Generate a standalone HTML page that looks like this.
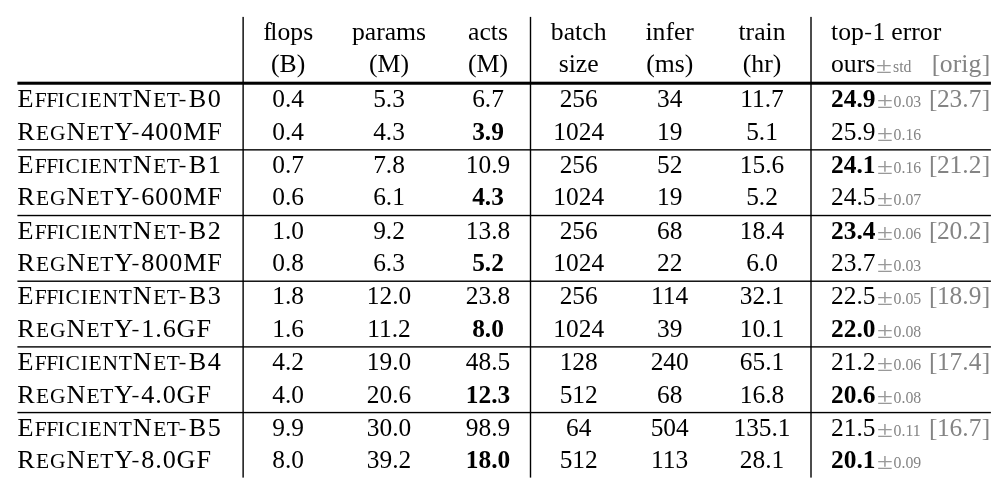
<!DOCTYPE html>
<html lang="en">
<head>
<meta charset="utf-8">
<title>EfficientNet vs RegNetY comparison</title>
<style>
html,body{margin:0;padding:0;background:#fff;}
body{width:1006px;height:485px;position:relative;overflow:hidden;
 font-family:"Liberation Serif","Times New Roman",serif;font-size:26px;line-height:33px;color:#000;}
.t{position:absolute;white-space:nowrap;height:33px;}
.t>span{font-size:25.4px;}
.t>.h{font-size:25.7px;}
.t>.nm{font-size:26.2px;letter-spacing:0.7px;}
.sc{font-size:21.48px;letter-spacing:0.9px;text-transform:uppercase;}
.t>.s{font-size:15.8px;color:#848484;letter-spacing:0px;}
.t>.pm{display:inline-block;font-size:23.2px;color:#999999;transform:scaleX(1.25);transform-origin:0 50%;}
.fl{letter-spacing:-1.4px;}
.g{color:#848484;}
.er{margin-left:-0.3px;}
.hy{display:inline-block;transform:scale(0.9,0.72);transform-origin:40% 19.2px;}
.bo{letter-spacing:-0.5px;}
.bc{margin-left:0.5px;}
b{font-weight:bold;}
.rules{position:absolute;left:0;top:0;fill:#000;shape-rendering:geometricPrecision;}
</style>
</head>
<body>

<svg class="rules" width="1006" height="485" viewBox="0 0 1006 485" aria-hidden="true">
<rect x="242.42" y="16.90" width="1.40" height="460.70"/>
<rect x="529.80" y="16.90" width="1.40" height="460.70"/>
<rect x="810.30" y="16.90" width="1.40" height="460.70"/>
<rect x="17.40" y="81.69" width="973.50" height="3.05"/>
<rect x="17.40" y="149.15" width="973.50" height="1.40"/>
<rect x="17.40" y="214.83" width="973.50" height="1.40"/>
<rect x="17.40" y="280.51" width="973.50" height="1.40"/>
<rect x="17.40" y="346.19" width="973.50" height="1.40"/>
<rect x="17.40" y="411.87" width="973.50" height="1.40"/>
</svg>
<div class="t" style="left:288.20px;top:15px;transform:translateX(-50%)"><span class="h"><span class="fl">f</span>lops</span></div>
<div class="t" style="left:288.20px;top:47px;transform:translateX(-50%)"><span class="h">(B)</span></div>
<div class="t" style="left:389.00px;top:15px;transform:translateX(-50%)"><span class="h">params</span></div>
<div class="t" style="left:389.00px;top:47px;transform:translateX(-50%)"><span class="h">(M)</span></div>
<div class="t" style="left:488.00px;top:15px;transform:translateX(-50%)"><span class="h">acts</span></div>
<div class="t" style="left:488.00px;top:47px;transform:translateX(-50%)"><span class="h">(M)</span></div>
<div class="t" style="left:578.70px;top:15px;transform:translateX(-50%)"><span class="h">batch</span></div>
<div class="t" style="left:578.70px;top:47px;transform:translateX(-50%)"><span class="h">size</span></div>
<div class="t" style="left:669.70px;top:15px;transform:translateX(-50%)"><span class="h">infer</span></div>
<div class="t" style="left:669.70px;top:47px;transform:translateX(-50%)"><span class="h">(ms)</span></div>
<div class="t" style="left:762.00px;top:15px;transform:translateX(-50%)"><span class="h">train</span></div>
<div class="t" style="left:762.00px;top:47px;transform:translateX(-50%)"><span class="h">(hr)</span></div>
<div class="t" style="left:831.00px;top:15px"><span class="h">top<span class="hy">-</span>1 <span class="er">error</span></span></div>
<div class="t" style="left:831.00px;top:47px"><span class="h">ours</span></div>
<div class="t" style="left:876.00px;top:48px"><span class="pm">&plusmn;</span></div>
<div class="t" style="left:893.00px;top:47px"><span class="s">std</span></div>
<div class="t g" style="left:990.30px;top:47px;transform:translateX(-100%)"><span class="h"><span class="bo">[</span>orig<span class="bc">]</span></span></div>
<div class="t" style="left:17.40px;top:82px"><span class="nm">E<span class="sc" style="margin-left:0.6px;letter-spacing:-0.5px">ff</span><span class="sc" style="letter-spacing:0.8px">icient</span>N<span class="sc" style="margin-left:0.8px;letter-spacing:0.4px">et</span><span class="hy" style="margin-left:-1.8px;letter-spacing:1.5px">-</span><span style="letter-spacing:1.7px">B0</span></span></div>
<div class="t" style="left:288.20px;top:82px;transform:translateX(-50%)"><span>0.4</span></div>
<div class="t" style="left:389.00px;top:82px;transform:translateX(-50%)"><span>5.3</span></div>
<div class="t" style="left:488.00px;top:82px;transform:translateX(-50%)"><span>6.7</span></div>
<div class="t" style="left:578.70px;top:82px;transform:translateX(-50%)"><span>256</span></div>
<div class="t" style="left:669.70px;top:82px;transform:translateX(-50%)"><span>34</span></div>
<div class="t" style="left:762.00px;top:82px;transform:translateX(-50%)"><span>11.7</span></div>
<div class="t" style="left:831.00px;top:82px"><span><b>24.9</b></span></div>
<div class="t" style="left:876.80px;top:83px"><span class="pm">&plusmn;</span></div>
<div class="t" style="left:893.60px;top:82px"><span class="s">0.03</span></div>
<div class="t g" style="left:990.30px;top:82px;transform:translateX(-100%)"><span><span class="bo">[</span>23.7<span class="bc">]</span></span></div>
<div class="t" style="left:17.40px;top:115px"><span class="nm" style="margin-left:-0.2px">R<span class="sc" style="margin-left:0.6px;letter-spacing:0.9px">eg</span>N<span class="sc" style="margin-left:0.6px;letter-spacing:0.6px">et</span><span style="margin-left:0.1px">Y</span><span class="hy" style="margin-left:-2.5px;letter-spacing:1.2px">-</span><span style="letter-spacing:0.9px">400MF</span></span></div>
<div class="t" style="left:288.20px;top:115px;transform:translateX(-50%)"><span>0.4</span></div>
<div class="t" style="left:389.00px;top:115px;transform:translateX(-50%)"><span>4.3</span></div>
<div class="t" style="left:488.00px;top:115px;transform:translateX(-50%)"><span><b>3.9</b></span></div>
<div class="t" style="left:578.70px;top:115px;transform:translateX(-50%)"><span>1024</span></div>
<div class="t" style="left:669.70px;top:115px;transform:translateX(-50%)"><span>19</span></div>
<div class="t" style="left:762.00px;top:115px;transform:translateX(-50%)"><span>5.1</span></div>
<div class="t" style="left:831.00px;top:115px"><span>25.9</span></div>
<div class="t" style="left:876.80px;top:116px"><span class="pm">&plusmn;</span></div>
<div class="t" style="left:893.60px;top:115px"><span class="s">0.16</span></div>
<div class="t" style="left:17.40px;top:148px"><span class="nm">E<span class="sc" style="margin-left:0.6px;letter-spacing:-0.5px">ff</span><span class="sc" style="letter-spacing:0.8px">icient</span>N<span class="sc" style="margin-left:0.8px;letter-spacing:0.4px">et</span><span class="hy" style="margin-left:-1.8px;letter-spacing:1.5px">-</span><span style="letter-spacing:1.7px">B1</span></span></div>
<div class="t" style="left:288.20px;top:148px;transform:translateX(-50%)"><span>0.7</span></div>
<div class="t" style="left:389.00px;top:148px;transform:translateX(-50%)"><span>7.8</span></div>
<div class="t" style="left:488.00px;top:148px;transform:translateX(-50%)"><span>10.9</span></div>
<div class="t" style="left:578.70px;top:148px;transform:translateX(-50%)"><span>256</span></div>
<div class="t" style="left:669.70px;top:148px;transform:translateX(-50%)"><span>52</span></div>
<div class="t" style="left:762.00px;top:148px;transform:translateX(-50%)"><span>15.6</span></div>
<div class="t" style="left:831.00px;top:148px"><span><b>24.1</b></span></div>
<div class="t" style="left:876.80px;top:149px"><span class="pm">&plusmn;</span></div>
<div class="t" style="left:893.60px;top:148px"><span class="s">0.16</span></div>
<div class="t g" style="left:990.30px;top:148px;transform:translateX(-100%)"><span><span class="bo">[</span>21.2<span class="bc">]</span></span></div>
<div class="t" style="left:17.40px;top:180px"><span class="nm" style="margin-left:-0.2px">R<span class="sc" style="margin-left:0.6px;letter-spacing:0.9px">eg</span>N<span class="sc" style="margin-left:0.6px;letter-spacing:0.6px">et</span><span style="margin-left:0.1px">Y</span><span class="hy" style="margin-left:-2.5px;letter-spacing:1.2px">-</span><span style="letter-spacing:0.9px">600MF</span></span></div>
<div class="t" style="left:288.20px;top:180px;transform:translateX(-50%)"><span>0.6</span></div>
<div class="t" style="left:389.00px;top:180px;transform:translateX(-50%)"><span>6.1</span></div>
<div class="t" style="left:488.00px;top:180px;transform:translateX(-50%)"><span><b>4.3</b></span></div>
<div class="t" style="left:578.70px;top:180px;transform:translateX(-50%)"><span>1024</span></div>
<div class="t" style="left:669.70px;top:180px;transform:translateX(-50%)"><span>19</span></div>
<div class="t" style="left:762.00px;top:180px;transform:translateX(-50%)"><span>5.2</span></div>
<div class="t" style="left:831.00px;top:180px"><span>24.5</span></div>
<div class="t" style="left:876.80px;top:181px"><span class="pm">&plusmn;</span></div>
<div class="t" style="left:893.60px;top:180px"><span class="s">0.07</span></div>
<div class="t" style="left:17.40px;top:214px"><span class="nm">E<span class="sc" style="margin-left:0.6px;letter-spacing:-0.5px">ff</span><span class="sc" style="letter-spacing:0.8px">icient</span>N<span class="sc" style="margin-left:0.8px;letter-spacing:0.4px">et</span><span class="hy" style="margin-left:-1.8px;letter-spacing:1.5px">-</span><span style="letter-spacing:1.7px">B2</span></span></div>
<div class="t" style="left:288.20px;top:214px;transform:translateX(-50%)"><span>1.0</span></div>
<div class="t" style="left:389.00px;top:214px;transform:translateX(-50%)"><span>9.2</span></div>
<div class="t" style="left:488.00px;top:214px;transform:translateX(-50%)"><span>13.8</span></div>
<div class="t" style="left:578.70px;top:214px;transform:translateX(-50%)"><span>256</span></div>
<div class="t" style="left:669.70px;top:214px;transform:translateX(-50%)"><span>68</span></div>
<div class="t" style="left:762.00px;top:214px;transform:translateX(-50%)"><span>18.4</span></div>
<div class="t" style="left:831.00px;top:214px"><span><b>23.4</b></span></div>
<div class="t" style="left:876.80px;top:215px"><span class="pm">&plusmn;</span></div>
<div class="t" style="left:893.60px;top:214px"><span class="s">0.06</span></div>
<div class="t g" style="left:990.30px;top:214px;transform:translateX(-100%)"><span><span class="bo">[</span>20.2<span class="bc">]</span></span></div>
<div class="t" style="left:17.40px;top:246px"><span class="nm" style="margin-left:-0.2px">R<span class="sc" style="margin-left:0.6px;letter-spacing:0.9px">eg</span>N<span class="sc" style="margin-left:0.6px;letter-spacing:0.6px">et</span><span style="margin-left:0.1px">Y</span><span class="hy" style="margin-left:-2.5px;letter-spacing:1.2px">-</span><span style="letter-spacing:0.9px">800MF</span></span></div>
<div class="t" style="left:288.20px;top:246px;transform:translateX(-50%)"><span>0.8</span></div>
<div class="t" style="left:389.00px;top:246px;transform:translateX(-50%)"><span>6.3</span></div>
<div class="t" style="left:488.00px;top:246px;transform:translateX(-50%)"><span><b>5.2</b></span></div>
<div class="t" style="left:578.70px;top:246px;transform:translateX(-50%)"><span>1024</span></div>
<div class="t" style="left:669.70px;top:246px;transform:translateX(-50%)"><span>22</span></div>
<div class="t" style="left:762.00px;top:246px;transform:translateX(-50%)"><span>6.0</span></div>
<div class="t" style="left:831.00px;top:246px"><span>23.7</span></div>
<div class="t" style="left:876.80px;top:247px"><span class="pm">&plusmn;</span></div>
<div class="t" style="left:893.60px;top:246px"><span class="s">0.03</span></div>
<div class="t" style="left:17.40px;top:279px"><span class="nm">E<span class="sc" style="margin-left:0.6px;letter-spacing:-0.5px">ff</span><span class="sc" style="letter-spacing:0.8px">icient</span>N<span class="sc" style="margin-left:0.8px;letter-spacing:0.4px">et</span><span class="hy" style="margin-left:-1.8px;letter-spacing:1.5px">-</span><span style="letter-spacing:1.7px">B3</span></span></div>
<div class="t" style="left:288.20px;top:279px;transform:translateX(-50%)"><span>1.8</span></div>
<div class="t" style="left:389.00px;top:279px;transform:translateX(-50%)"><span>12.0</span></div>
<div class="t" style="left:488.00px;top:279px;transform:translateX(-50%)"><span>23.8</span></div>
<div class="t" style="left:578.70px;top:279px;transform:translateX(-50%)"><span>256</span></div>
<div class="t" style="left:669.70px;top:279px;transform:translateX(-50%)"><span>114</span></div>
<div class="t" style="left:762.00px;top:279px;transform:translateX(-50%)"><span>32.1</span></div>
<div class="t" style="left:831.00px;top:279px"><span>22.5</span></div>
<div class="t" style="left:876.80px;top:280px"><span class="pm">&plusmn;</span></div>
<div class="t" style="left:893.60px;top:279px"><span class="s">0.05</span></div>
<div class="t g" style="left:990.30px;top:279px;transform:translateX(-100%)"><span><span class="bo">[</span>18.9<span class="bc">]</span></span></div>
<div class="t" style="left:17.40px;top:312px"><span class="nm" style="margin-left:-0.2px">R<span class="sc" style="margin-left:0.6px;letter-spacing:0.9px">eg</span>N<span class="sc" style="margin-left:0.6px;letter-spacing:0.6px">et</span><span style="margin-left:0.1px">Y</span><span class="hy" style="margin-left:-2.5px;letter-spacing:1.2px">-</span><span style="letter-spacing:0.9px">1.6GF</span></span></div>
<div class="t" style="left:288.20px;top:312px;transform:translateX(-50%)"><span>1.6</span></div>
<div class="t" style="left:389.00px;top:312px;transform:translateX(-50%)"><span>11.2</span></div>
<div class="t" style="left:488.00px;top:312px;transform:translateX(-50%)"><span><b>8.0</b></span></div>
<div class="t" style="left:578.70px;top:312px;transform:translateX(-50%)"><span>1024</span></div>
<div class="t" style="left:669.70px;top:312px;transform:translateX(-50%)"><span>39</span></div>
<div class="t" style="left:762.00px;top:312px;transform:translateX(-50%)"><span>10.1</span></div>
<div class="t" style="left:831.00px;top:312px"><span><b>22.0</b></span></div>
<div class="t" style="left:876.80px;top:313px"><span class="pm">&plusmn;</span></div>
<div class="t" style="left:893.60px;top:312px"><span class="s">0.08</span></div>
<div class="t" style="left:17.40px;top:345px"><span class="nm">E<span class="sc" style="margin-left:0.6px;letter-spacing:-0.5px">ff</span><span class="sc" style="letter-spacing:0.8px">icient</span>N<span class="sc" style="margin-left:0.8px;letter-spacing:0.4px">et</span><span class="hy" style="margin-left:-1.8px;letter-spacing:1.5px">-</span><span style="letter-spacing:1.7px">B4</span></span></div>
<div class="t" style="left:288.20px;top:345px;transform:translateX(-50%)"><span>4.2</span></div>
<div class="t" style="left:389.00px;top:345px;transform:translateX(-50%)"><span>19.0</span></div>
<div class="t" style="left:488.00px;top:345px;transform:translateX(-50%)"><span>48.5</span></div>
<div class="t" style="left:578.70px;top:345px;transform:translateX(-50%)"><span>128</span></div>
<div class="t" style="left:669.70px;top:345px;transform:translateX(-50%)"><span>240</span></div>
<div class="t" style="left:762.00px;top:345px;transform:translateX(-50%)"><span>65.1</span></div>
<div class="t" style="left:831.00px;top:345px"><span>21.2</span></div>
<div class="t" style="left:876.80px;top:346px"><span class="pm">&plusmn;</span></div>
<div class="t" style="left:893.60px;top:345px"><span class="s">0.06</span></div>
<div class="t g" style="left:990.30px;top:345px;transform:translateX(-100%)"><span><span class="bo">[</span>17.4<span class="bc">]</span></span></div>
<div class="t" style="left:17.40px;top:378px"><span class="nm" style="margin-left:-0.2px">R<span class="sc" style="margin-left:0.6px;letter-spacing:0.9px">eg</span>N<span class="sc" style="margin-left:0.6px;letter-spacing:0.6px">et</span><span style="margin-left:0.1px">Y</span><span class="hy" style="margin-left:-2.5px;letter-spacing:1.2px">-</span><span style="letter-spacing:0.9px">4.0GF</span></span></div>
<div class="t" style="left:288.20px;top:378px;transform:translateX(-50%)"><span>4.0</span></div>
<div class="t" style="left:389.00px;top:378px;transform:translateX(-50%)"><span>20.6</span></div>
<div class="t" style="left:488.00px;top:378px;transform:translateX(-50%)"><span><b>12.3</b></span></div>
<div class="t" style="left:578.70px;top:378px;transform:translateX(-50%)"><span>512</span></div>
<div class="t" style="left:669.70px;top:378px;transform:translateX(-50%)"><span>68</span></div>
<div class="t" style="left:762.00px;top:378px;transform:translateX(-50%)"><span>16.8</span></div>
<div class="t" style="left:831.00px;top:378px"><span><b>20.6</b></span></div>
<div class="t" style="left:876.80px;top:379px"><span class="pm">&plusmn;</span></div>
<div class="t" style="left:893.60px;top:378px"><span class="s">0.08</span></div>
<div class="t" style="left:17.40px;top:411px"><span class="nm">E<span class="sc" style="margin-left:0.6px;letter-spacing:-0.5px">ff</span><span class="sc" style="letter-spacing:0.8px">icient</span>N<span class="sc" style="margin-left:0.8px;letter-spacing:0.4px">et</span><span class="hy" style="margin-left:-1.8px;letter-spacing:1.5px">-</span><span style="letter-spacing:1.7px">B5</span></span></div>
<div class="t" style="left:288.20px;top:411px;transform:translateX(-50%)"><span>9.9</span></div>
<div class="t" style="left:389.00px;top:411px;transform:translateX(-50%)"><span>30.0</span></div>
<div class="t" style="left:488.00px;top:411px;transform:translateX(-50%)"><span>98.9</span></div>
<div class="t" style="left:578.70px;top:411px;transform:translateX(-50%)"><span>64</span></div>
<div class="t" style="left:669.70px;top:411px;transform:translateX(-50%)"><span>504</span></div>
<div class="t" style="left:762.00px;top:411px;transform:translateX(-50%)"><span>135.1</span></div>
<div class="t" style="left:831.00px;top:411px"><span>21.5</span></div>
<div class="t" style="left:876.80px;top:412px"><span class="pm">&plusmn;</span></div>
<div class="t" style="left:893.60px;top:411px"><span class="s">0.11</span></div>
<div class="t g" style="left:990.30px;top:411px;transform:translateX(-100%)"><span><span class="bo">[</span>16.7<span class="bc">]</span></span></div>
<div class="t" style="left:17.40px;top:443px"><span class="nm" style="margin-left:-0.2px">R<span class="sc" style="margin-left:0.6px;letter-spacing:0.9px">eg</span>N<span class="sc" style="margin-left:0.6px;letter-spacing:0.6px">et</span><span style="margin-left:0.1px">Y</span><span class="hy" style="margin-left:-2.5px;letter-spacing:1.2px">-</span><span style="letter-spacing:0.9px">8.0GF</span></span></div>
<div class="t" style="left:288.20px;top:443px;transform:translateX(-50%)"><span>8.0</span></div>
<div class="t" style="left:389.00px;top:443px;transform:translateX(-50%)"><span>39.2</span></div>
<div class="t" style="left:488.00px;top:443px;transform:translateX(-50%)"><span><b>18.0</b></span></div>
<div class="t" style="left:578.70px;top:443px;transform:translateX(-50%)"><span>512</span></div>
<div class="t" style="left:669.70px;top:443px;transform:translateX(-50%)"><span>113</span></div>
<div class="t" style="left:762.00px;top:443px;transform:translateX(-50%)"><span>28.1</span></div>
<div class="t" style="left:831.00px;top:443px"><span><b>20.1</b></span></div>
<div class="t" style="left:876.80px;top:444px"><span class="pm">&plusmn;</span></div>
<div class="t" style="left:893.60px;top:443px"><span class="s">0.09</span></div>
</body>
</html>
